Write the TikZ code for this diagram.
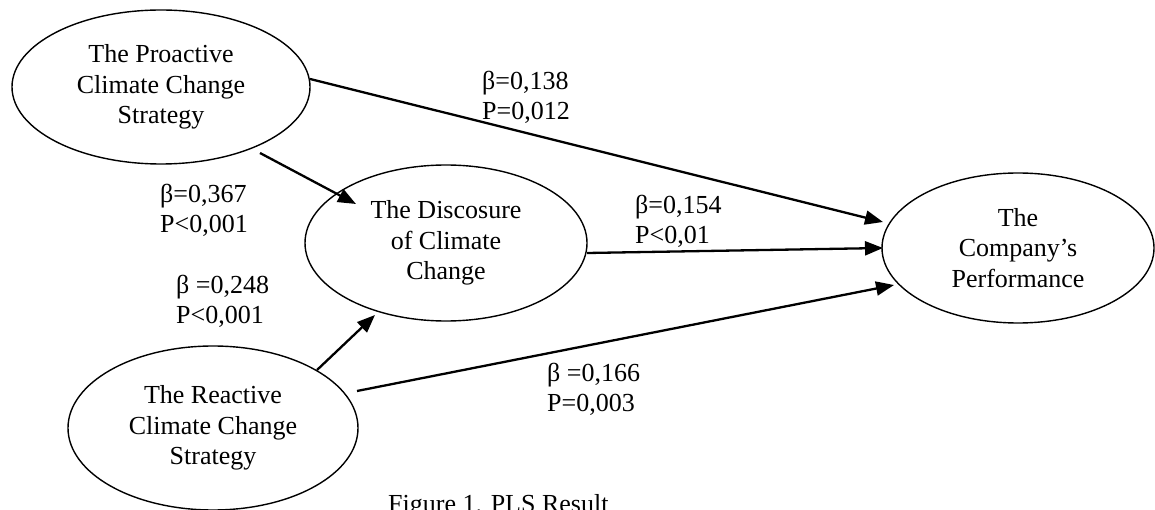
\documentclass[tikz,border=0pt]{standalone}
\usepackage{fontspec}
\setmainfont{Liberation Serif}
\usetikzlibrary{shapes.geometric,arrows.meta,calc}
\begin{document}
\begin{tikzpicture}[x=1pt,y=-1pt,
  ell/.style={draw, ellipse, line width=1.4pt, inner sep=0pt, align=center,
    font=\fontsize{26}{30.5}\selectfont},
  arr/.style={line width=2.3pt, -{Triangle[length=18pt,width=14pt]}},
  lbl/.style={anchor=west, align=left, inner sep=0pt,
    font=\fontsize{26}{30}\selectfont},
  captionstyle/.style={anchor=base west, inner sep=0pt, font=\fontsize{26}{30}\selectfont}]
\useasboundingbox (0,0) rectangle (1155,510);
\node[ell, minimum width=298pt, minimum height=154pt] (prop) at (161,87) {The Proactive\\Climate Change\\Strategy};
\node[ell, minimum width=282pt, minimum height=156pt] (disc) at (446,243) {The Discosure\\of Climate\\Change};
\node[ell, minimum width=272pt, minimum height=150pt] (comp) at (1018,248) {The\\Company’s\\Performance};
\node[ell, minimum width=290pt, minimum height=164pt] (reac) at (213,428) {The Reactive\\Climate Change\\Strategy};

\draw[arr] ($(prop.center)+(149,-8)$) -- ($(comp.center)+(-135,-26)$);
\draw[arr] ($(prop.center)+(99,66)$) -- ($(disc.center)+(-90,-39)$);
\draw[arr] ($(disc.center)+(141,10)$) -- ($(comp.center)+(-135,0)$);
\draw[arr] ($(reac.center)+(104,-58)$) -- ($(disc.center)+(-71,72)$);
\draw[arr] ($(reac.center)+(144,-37)$) -- ($(comp.center)+(-124,37)$);

\node[lbl] (l1) at (482,97) {β=0,138\\P=0,012};
\node[lbl] (l2) at (160,210) {β=0,367\\P<0,001};
\node[lbl] (l3) at (176,301) {β =0,248\\P<0,001};
\node[lbl] (l4) at (635,221) {β=0,154\\P<0,01};
\node[lbl] (l5) at (547,389) {β =0,166\\P=0,003};
\node[captionstyle] (caption) at (388,512) {Figure 1. PLS Result};
\end{tikzpicture}
\end{document}
